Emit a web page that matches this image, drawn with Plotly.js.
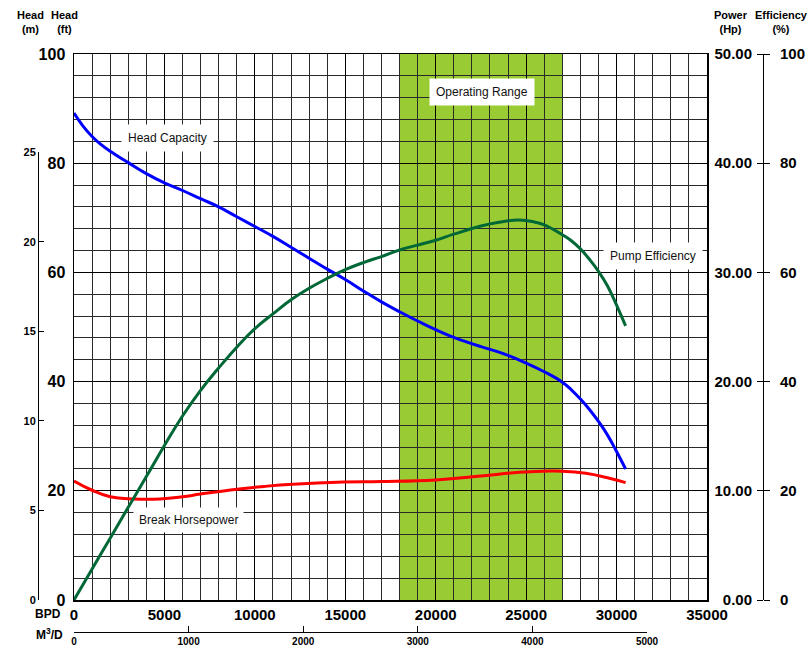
<!DOCTYPE html>
<html>
<head>
<meta charset="utf-8">
<script src="https://cdn.plot.ly/plotly-3.0.1.min.js"></script>
<style>
html, body { margin: 0; padding: 0; background: #fff; }
#chart { width: 812px; height: 655px; }
</style>
</head>
<body>
<div id="chart"></div>
<script>
// Head capacity (ft) vs flow (BPD)
const headBpd = [0, 500, 1000, 1500, 2000, 3000, 4000, 5000, 6000, 7000, 8000, 9000, 10000, 11000, 12000, 13000, 14000, 15000, 16000, 17000, 18000, 19000, 20000, 21000, 22500, 23500, 25000, 26000, 27000, 27500, 28000, 28500, 29000, 29500, 30000, 30500];
const headFt  = [89.2, 86.8, 84.9, 83.4, 82.2, 80.1, 78.1, 76.4, 75.0, 73.5, 72.0, 70.2, 68.4, 66.6, 64.6, 62.6, 60.6, 58.7, 56.6, 54.6, 52.8, 51.1, 49.5, 48.1, 46.4, 45.4, 43.4, 41.8, 39.9, 38.5, 36.8, 34.9, 32.7, 30.2, 27.2, 24.0];

// Pump efficiency (%)
const effBpd = [0, 1000, 2000, 3000, 4000, 5000, 6000, 7000, 8000, 9000, 10000, 11000, 12000, 13000, 14000, 15000, 16000, 17000, 18000, 19000, 20000, 21000, 22500, 23500, 24600, 25500, 26000, 27000, 27500, 28000, 28500, 29000, 29500, 30000, 30500];
const effPct = [0, 5.7, 11.3, 17.0, 22.6, 28.3, 33.7, 38.4, 42.5, 46.3, 49.7, 52.4, 55.0, 57.1, 58.9, 60.5, 61.8, 62.9, 64.1, 65.0, 65.9, 67.0, 68.5, 69.2, 69.6, 69.2, 68.7, 66.9, 65.8, 64.3, 62.4, 60.2, 57.5, 54.0, 50.2];

// Break horsepower (Hp)
const hpBpd = [0, 1000, 2000, 3300, 4750, 6000, 7000, 9000, 10500, 12100, 14900, 17000, 20000, 22500, 24600, 26000, 27000, 28300, 29600, 30500];
const hpVal = [10.9, 10.05, 9.45, 9.25, 9.25, 9.45, 9.7, 10.15, 10.4, 10.6, 10.8, 10.85, 11.0, 11.35, 11.7, 11.8, 11.8, 11.6, 11.15, 10.75];

const opRange = [18000, 27000];
const FT_PER_M = 3.281;

// page geometry (px) -> paper coords
const L = 38, R = 763, T = 54, B = 632;
const plotL = 74, plotR = 707, plotB = 600;
const px = x => (x - L) / (R - L);
const py = y => (B - y) / (B - T);
const xDom = [px(plotL), px(plotR)];
const yDom = [py(plotB), 1];
const mTop = yDom[0] + (yDom[1] - yDom[0]) * 25 * FT_PER_M / 100;
const m3End = px(647);

const FONT = 'Liberation Sans, Arial, sans-serif';
const bold = (size) => ({ family: FONT, size: size, color: '#000', weight: 'bold' });

const curve = (color) => ({ color: color, width: 3, shape: 'spline', smoothing: 1.3 });

const traces = [
    { x: headBpd, y: headFt, type: 'scatter', mode: 'lines', line: curve('#0000ff'),
      xaxis: 'x', yaxis: 'y', hoverinfo: 'skip' },
    { x: effBpd, y: effPct, type: 'scatter', mode: 'lines', line: curve('#006837'),
      xaxis: 'x', yaxis: 'y4', hoverinfo: 'skip' },
    { x: hpBpd, y: hpVal, type: 'scatter', mode: 'lines', line: curve('#ff0000'),
      xaxis: 'x', yaxis: 'y3', hoverinfo: 'skip' },
    // keeps the M3/D and Head (m) axes alive
    { x: [0], y: [0], type: 'scatter', mode: 'markers', marker: { opacity: 0 },
      xaxis: 'x2', yaxis: 'y2', hoverinfo: 'skip' }
];

const gridMajor = '#000';
const gridMinor = '#2a2a2a';

const layout = {
    width: 812,
    height: 655,
    margin: { l: L, r: 812 - R, t: T, b: 655 - B, pad: 0 },
    showlegend: false,
    paper_bgcolor: '#fff',
    plot_bgcolor: 'rgba(0,0,0,0)',
    font: { family: FONT, color: '#000' },
    xaxis: {
        domain: xDom, range: [0, 35000], tick0: 0, dtick: 5000, tickformat: 'd',
        showgrid: true, gridcolor: gridMajor, gridwidth: 1,
        minor: { dtick: 1000, showgrid: true, gridcolor: gridMinor, gridwidth: 1 },
        showline: true, linecolor: '#000', linewidth: 1.5, mirror: true,
        ticks: '', zeroline: false, tickfont: bold(15), anchor: 'y'
    },
    yaxis: {
        domain: yDom, range: [0, 100], tick0: 0, dtick: 20,
        showgrid: true, gridcolor: gridMajor, gridwidth: 1,
        minor: { dtick: 4, showgrid: true, gridcolor: gridMinor, gridwidth: 1 },
        showline: true, linecolor: '#000', linewidth: 1.5, mirror: true,
        ticks: '', zeroline: false, tickfont: bold(16), anchor: 'x',
        ticklabelstandoff: 4
    },
    xaxis2: {
        domain: [xDom[0], m3End], range: [0, 5000], dtick: 1000,
        anchor: 'free', position: 0, side: 'bottom',
        showline: true, linecolor: '#000', linewidth: 1,
        ticks: 'inside', ticklen: 6, tickcolor: '#000',
        showgrid: false, zeroline: false, tickfont: bold(10)
    },
    yaxis2: {
        domain: [yDom[0], mTop], range: [0, 25], dtick: 5,
        anchor: 'free', position: 0, side: 'left',
        showline: true, linecolor: '#000', linewidth: 1,
        ticks: 'inside', ticklen: 5, tickcolor: '#000',
        showgrid: false, zeroline: false, tickfont: bold(11)
    },
    yaxis3: {
        overlaying: 'y', anchor: 'free', position: 1, side: 'left',
        range: [0, 50], dtick: 10, tickformat: '.2f',
        showline: true, linecolor: '#000', linewidth: 1,
        ticks: 'outside', ticklen: 6, tickcolor: '#000',
        showgrid: false, zeroline: false, tickfont: bold(15),
        ticklabelstandoff: 2
    },
    yaxis4: {
        overlaying: 'y', anchor: 'free', position: 1, side: 'right',
        range: [0, 100], dtick: 20,
        showline: false,
        ticks: 'outside', ticklen: 6, tickcolor: '#000',
        showgrid: false, zeroline: false, tickfont: bold(15),
        ticklabelstandoff: 7
    },
    shapes: [
        {
            type: 'rect', xref: 'x', yref: 'y', layer: 'below',
            x0: opRange[0], x1: opRange[1], y0: 0, y1: 100,
            fillcolor: '#99cc33', line: { width: 0 }
        }
    ],
    annotations: [
        // axis titles
        { text: '<b>Head</b><br><b>(m)</b>', x: px(30), y: py(7), xanchor: 'center', yanchor: 'top', font: bold(11) },
        { text: '<b>Head</b><br><b>(ft)</b>', x: px(64), y: py(7), xanchor: 'center', yanchor: 'top', font: bold(11) },
        { text: '<b>Power</b><br><b>(Hp)</b>', x: px(731), y: py(7), xanchor: 'center', yanchor: 'top', font: bold(11) },
        { text: '<b>Efficiency</b><br><b>(%)</b>', x: px(781), y: py(7), xanchor: 'center', yanchor: 'top', font: bold(11) },
        { text: '<b>BPD</b>', x: px(48), y: py(614), xanchor: 'center', yanchor: 'middle', font: bold(12) },
        { text: '<b>M<sup>3</sup>/D</b>', x: px(49), y: py(634), xanchor: 'center', yanchor: 'middle', font: bold(12) },
        // curve labels
        { text: 'Operating Range', x: px(482), y: py(92), xanchor: 'center', yanchor: 'middle',
          bgcolor: '#fff', borderpad: 6, font: { family: FONT, size: 12, color: '#111' } },
        { text: 'Head Capacity', x: px(167), y: py(138), xanchor: 'center', yanchor: 'middle',
          bgcolor: '#fff', borderpad: 6, font: { family: FONT, size: 12, color: '#111' } },
        { text: 'Pump Efficiency', x: px(653), y: py(256), xanchor: 'center', yanchor: 'middle',
          bgcolor: '#fff', borderpad: 6, font: { family: FONT, size: 12, color: '#111' } },
        { text: 'Break Horsepower', x: px(188), y: py(520), xanchor: 'center', yanchor: 'middle',
          bgcolor: '#fff', borderpad: 5, font: { family: FONT, size: 12, color: '#111' } }
    ].map(a => Object.assign({ xref: 'paper', yref: 'paper', showarrow: false }, a))
};

Plotly.newPlot('chart', traces, layout, { displayModeBar: false, staticPlot: true });
</script>
</body>
</html>
